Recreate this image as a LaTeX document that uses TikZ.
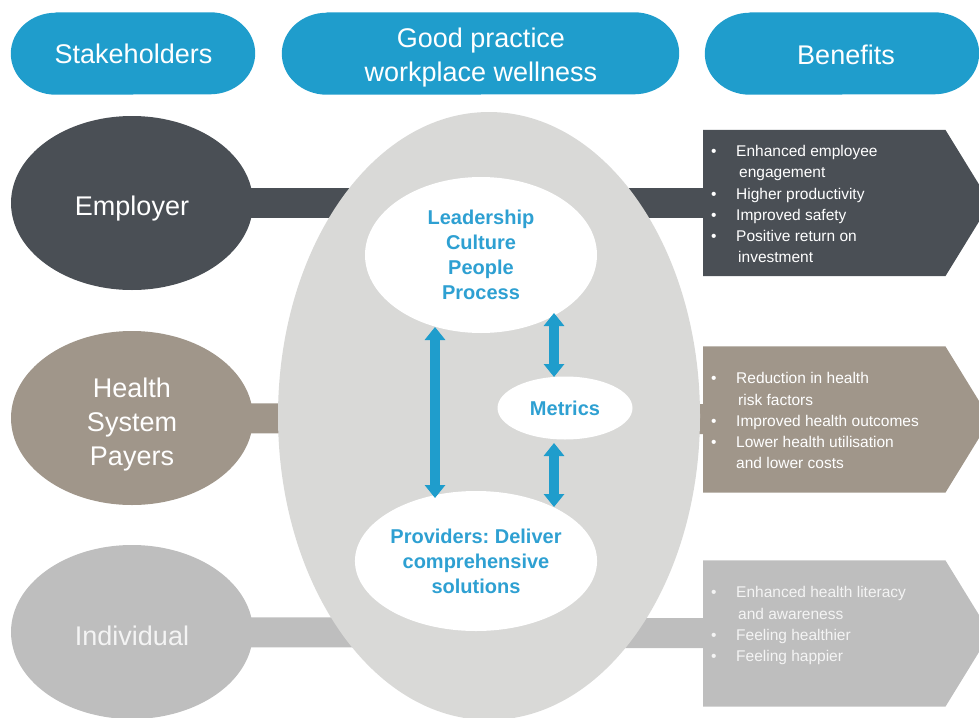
\documentclass[tikz,border=0pt]{standalone}
\usepackage{fontspec}
\setmainfont{Liberation Sans}
\usetikzlibrary{shapes.geometric,arrows.meta,backgrounds,calc}
\definecolor{hdr}{HTML}{1F9DCC}
\definecolor{arr}{HTML}{1F9DCC}
\definecolor{txtb}{HTML}{2EA0D2}
\definecolor{empc}{HTML}{4A4F55}
\definecolor{hlthc}{HTML}{A0968A}
\definecolor{indc}{HTML}{BEBEBE}
\definecolor{cenc}{HTML}{D9D9D7}
\definecolor{indtxt}{HTML}{F4F4F4}
\newcommand\pillfill[1]{\fill[hdr] ($(#1.north west)+(45,0)$) -- ($(#1.north east)+(-45,0)$) arc[start angle=-90,end angle=90,x radius=45,y radius=41] -- ($(#1.south west)+(45,0)$) arc[start angle=90,end angle=270,x radius=45,y radius=41] -- cycle;}
\newcommand\boxfill[2]{\fill[#2] (#1.north west) -- (#1.north east) -- ($(#1.east)+(45,0)$) -- (#1.south east) -- (#1.south west) -- cycle;}
\begin{document}
\frenchspacing
\begin{tikzpicture}[x=1pt,y=-1pt,
  hdrnode/.style={minimum width=#1, minimum height=82, inner sep=0},
  bigtxt/.style={inner sep=0, text=white, font=\fontsize{27}{34}\selectfont, align=center},
  stake/.style={ellipse, minimum width=242, minimum height=174, inner sep=0},
  innerell/.style={ellipse, fill=white, inner sep=0, text=txtb, font=\bfseries\fontsize{20}{25}\selectfont, align=center},
  boxbody/.style={minimum width=242, minimum height=146, inner sep=0, anchor=west},
  blist/.style={anchor=west, text=white, font=\fontsize{15.5}{21.2}\selectfont, inner sep=0},
  bar/.style={line width=30pt},
  dbl/.style={arr, line width=10pt, {Triangle[width=20pt,length=13pt]}-{Triangle[width=20pt,length=13pt]}},
]
\useasboundingbox (0,0) rectangle (979,717);
\clip (0,0) rectangle (979,717);

% headers
\node[hdrnode=244] (hs) at (133,53.5) {};
\node[hdrnode=397] (hg) at (480.5,53.5) {};
\node[hdrnode=274] (hb) at (842,53.5) {};
\node[bigtxt] (hst) at (133.5,54) {Stakeholders};
\node[bigtxt] (hgt) at (481,57.5) {Good practice\\workplace wellness};
\node[bigtxt] (hbt) at (846,54.5) {Benefits};

% stakeholders
\node[stake, fill=empc] (emp) at (132,203) {};
\node[stake, fill=hlthc] (hp) at (132,418) {};
\node[stake, fill=indc] (ind) at (132,632) {};
\node[bigtxt] (empt) at (132,209) {Employer};
\node[bigtxt] (hpt) at (132,425) {Health\\System\\Payers};
\node[bigtxt, text=indtxt] (indt) at (132,636) {Individual};

% central ellipse
\node[ellipse, fill=cenc, minimum width=422, minimum height=608, inner sep=0] (cen) at (489,416) {};

% inner ellipses
\node[innerell, minimum width=232, minimum height=156] (lead) at (481,255) {Leadership\\Culture\\People\\Process};
\node[innerell, minimum width=135, minimum height=63] (met) at (565,408) {Metrics};
\node[innerell, minimum width=242, minimum height=140] (prov) at (476,561) {Providers: Deliver\\comprehensive\\solutions};

% arrows
\coordinate (a1t) at (435,327);
\coordinate (a1b) at (435,498);
\coordinate (a2t) at (554,313);
\coordinate (a2b) at (554,377);
\coordinate (a3t) at (554,443);
\coordinate (a3b) at (554,507);
\draw[dbl] (a1t) -- (a1b);
\draw[dbl] (a2t) -- (a2b);
\draw[dbl] (a3t) -- (a3b);

% benefit boxes
\node[boxbody] (bemp) at (703,203) {};
\node[boxbody] (bhp) at (703,419.5) {};
\node[boxbody] (bind) at (703,633.5) {};

\node[blist] (temp) at (711,205.5) {\begin{tabular}{@{}p{25pt}@{}l@{}}
•&Enhanced employee\\ &\hspace{3pt}engagement\\ •&Higher productivity\\ •&Improved safety\\ •&Positive return on\\ &\hspace{2pt}investment\end{tabular}};
\node[blist] (thp) at (711,422) {\begin{tabular}{@{}p{25pt}@{}l@{}}
•&Reduction in health\\ &\hspace{2pt}risk factors\\ •&Improved health outcomes\\ •&Lower health utilisation\\ &and lower costs\end{tabular}};
\node[blist, text=indtxt] (tind) at (711,625.5) {\begin{tabular}{@{}p{25pt}@{}l@{}}
•&Enhanced health literacy\\ &\hspace{2pt}and awareness\\ •&Feeling healthier\\ •&Feeling happier\end{tabular}};

\begin{scope}[on background layer]
  \draw[bar, empc] (emp.center) -- (bemp.center);
  \draw[bar, hlthc] (hp.center) -- (bhp.center);
  \draw[bar, indc] (ind.center) -- (bind.center);
  \boxfill{bemp}{empc}
  \boxfill{bhp}{hlthc}
  \boxfill{bind}{indc}
  \pillfill{hs}
  \pillfill{hg}
  \pillfill{hb}
\end{scope}
\end{tikzpicture}
\end{document}
